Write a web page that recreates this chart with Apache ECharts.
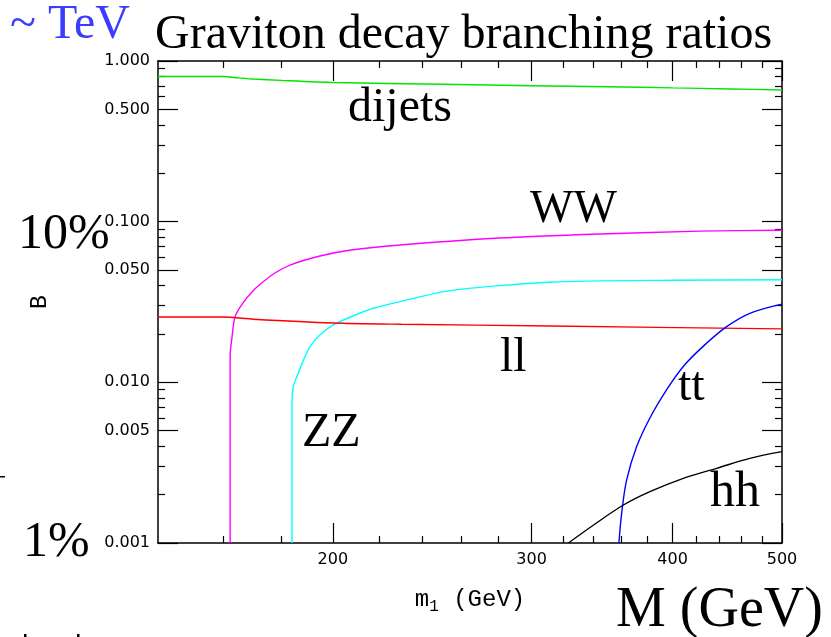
<!DOCTYPE html>
<html>
<head>
<meta charset="utf-8">
<script src="https://cdn.jsdelivr.net/npm/echarts@6/dist/echarts.min.js"></script>
<style>
  html, body { margin: 0; padding: 0; background: #fff; }
  #chart { width: 831px; height: 637px; }
</style>
</head>
<body>
<div id="chart"></div>
<script>
// Axis ticks: graviton mass m1 (GeV) and branching ratio B, both logarithmic
const massTicks = [200, 300, 400, 500];
const massMinorTicks = [160, 180, 220, 240, 260, 280, 320, 340, 360, 380, 420, 440, 460, 480];
const brTicks = [0.001, 0.005, 0.01, 0.05, 0.1, 0.5, 1];
const brMinorTicks = [0.002, 0.003, 0.004, 0.006, 0.007, 0.008, 0.009,
                      0.02, 0.03, 0.04, 0.06, 0.07, 0.08, 0.09,
                      0.2, 0.3, 0.4, 0.6, 0.7, 0.8, 0.9];

// Branching ratios [m1 (GeV), B] for each decay channel
const dijets = [[140, 0.80], [160, 0.80], [165, 0.785], [170, 0.772], [180, 0.757], [200, 0.735],
                [250, 0.716], [300, 0.702], [350, 0.692], [400, 0.680], [450, 0.670], [500, 0.660]];
const ww = [[162.2, 0.001], [162.2, 0.0148], [162.7, 0.0183], [163.8, 0.0255], [166.5, 0.0312],
            [170.0, 0.0372], [173.4, 0.0421], [177.7, 0.0479], [183.3, 0.0537], [194.8, 0.0611],
            [207.6, 0.0666], [229.3, 0.0716], [281, 0.0791], [345, 0.0838], [423, 0.0873], [500, 0.0884]];
const zz = [[184, 0.001], [184, 0.00755], [184.5, 0.0094], [185.8, 0.0108], [188.4, 0.0138],
            [190.9, 0.0167], [194.8, 0.0197], [200, 0.0227], [207.6, 0.0256], [217.2, 0.0289],
            [229.3, 0.0318], [254, 0.0372], [311.5, 0.0420], [400, 0.0432], [500, 0.0435]];
const dilepton = [[140, 0.0255], [160, 0.0255], [170, 0.0247], [200, 0.0234], [230, 0.0230],
                  [312, 0.0224], [500, 0.0215]];
const ttbar = [[358.5, 0.001], [360.5, 0.00153], [364.2, 0.00247], [371.7, 0.00398],
               [381.9, 0.0060], [395.2, 0.0090], [408.8, 0.01255], [425.9, 0.0168],
               [446.6, 0.0222], [468.2, 0.0269], [500, 0.0307]];
const higgsPair = [[323.4, 0.001], [340.2, 0.00129], [361.8, 0.001724], [381.9, 0.002087],
                   [408.8, 0.002527], [437.6, 0.002917], [468.2, 0.003366], [500, 0.003702]];

const tickFont = { fontFamily: 'DejaVu Sans', fontSize: 16, color: '#000' };
const serif = 'Liberation Serif';

function massAxis(position, ticks, len, withLine, withLabel) {
  const ax = {
    type: 'log', logBase: 10, min: 140, max: 500, position: position,
    axisLine: { show: withLine, onZero: false, lineStyle: { color: '#000', width: 1.5 } },
    axisTick: { show: true, inside: true, length: len, customValues: ticks,
                lineStyle: { color: '#000', width: 1.2 } },
    axisLabel: { show: false },
    splitLine: { show: false }
  };
  if (withLabel) {
    ax.axisLabel = Object.assign({ show: true, margin: 9, customValues: ticks,
                                   formatter: v => String(Math.round(v)) }, tickFont);
    ax.name = '{m|m}{s|1}{m| (GeV)}';
    ax.nameLocation = 'middle';
    ax.nameGap = 42;
    ax.nameTextStyle = {
      rich: {
        m: { fontFamily: 'Liberation Mono', fontSize: 24, color: '#000' },
        s: { fontFamily: 'Liberation Mono', fontSize: 16, color: '#000', verticalAlign: 'bottom', padding: [14, 0, 0, 0] }
      }
    };
  }
  return ax;
}

function brAxis(position, ticks, len, withLine, withLabel) {
  const ax = {
    type: 'log', logBase: 10, min: 0.001, max: 1, position: position,
    axisLine: { show: withLine, onZero: false, lineStyle: { color: '#000', width: 1.5 } },
    axisTick: { show: true, inside: true, length: len, customValues: ticks,
                lineStyle: { color: '#000', width: 1.2 } },
    axisLabel: { show: false },
    splitLine: { show: false }
  };
  if (withLabel) {
    ax.axisLabel = Object.assign({ show: true, margin: 8, customValues: ticks,
                                   formatter: v => Number(v).toFixed(3) }, tickFont);
    ax.name = 'B';
    ax.nameLocation = 'middle';
    ax.nameRotate = 90;
    ax.nameGap = 107;
    ax.nameTextStyle = { fontFamily: 'Liberation Mono', fontSize: 23, color: '#000' };
  }
  return ax;
}

function curve(name, data, color, smooth) {
  return {
    name: name, type: 'line', data: data, xAxisIndex: 0, yAxisIndex: 0,
    showSymbol: false, smooth: smooth, clip: true,
    lineStyle: { color: color, width: 1.4 }, z: 5
  };
}

function label(text, x, y, size, color) {
  return {
    type: 'text', x: x, y: y, silent: true, z: 20,
    style: { text: text, font: size + 'px "' + serif + '"', fill: color || '#000',
             textAlign: 'left', textVerticalAlign: 'middle' }
  };
}

const chart = echarts.init(document.getElementById('chart'), null, { renderer: 'canvas' });
chart.setOption({
  animation: false,
  backgroundColor: '#fff',
  grid: { left: 158, top: 61, right: 49, bottom: 94 },
  xAxis: [
    massAxis('bottom', massTicks, 20, true, true),
    massAxis('bottom', massMinorTicks, 7, false, false),
    massAxis('top', massTicks, 20, true, false),
    massAxis('top', massMinorTicks, 7, false, false)
  ],
  yAxis: [
    brAxis('left', brTicks, 20, true, true),
    brAxis('left', brMinorTicks, 7, false, false),
    brAxis('right', brTicks, 20, true, false),
    brAxis('right', brMinorTicks, 7, false, false)
  ],
  series: [
    curve('dijets', dijets, '#00e600', 0.25),
    curve('WW', ww, '#ff00ff', 0.25),
    curve('ZZ', zz, '#00ffff', 0.25),
    curve('ll', dilepton, '#ff0000', 0.25),
    curve('tt', ttbar, '#0000ff', 0.35),
    curve('hh', higgsPair, '#000000', 0.35)
  ],
  graphic: [
    label('~ TeV', 10, 25, 48, '#3c3cff'),
    label('Graviton decay branching ratios', 155, 35, 48),
    label('dijets', 348, 108, 48),
    label('WW', 530, 210, 46),
    label('ll', 500, 358, 48),
    label('ZZ', 302, 433, 48),
    label('tt', 678, 387, 48),
    label('hh', 710, 493, 50),
    label('10%', 18, 235, 50),
    label('1%', 23, 543, 50),
    label('M (GeV)', 616, 611, 56),
    { type: 'rect', shape: { x: 0, y: 476, width: 5, height: 1.5 }, style: { fill: '#000' }, silent: true },
    { type: 'rect', shape: { x: 24, y: 634, width: 2.5, height: 3 }, style: { fill: '#000' }, silent: true },
    { type: 'rect', shape: { x: 77, y: 634, width: 2.5, height: 3 }, style: { fill: '#000' }, silent: true }
  ]
});
</script>
</body>
</html>
